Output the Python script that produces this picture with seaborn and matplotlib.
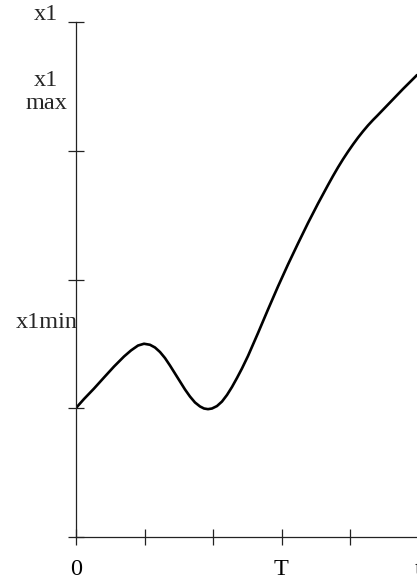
import matplotlib
matplotlib.use("Agg")
import matplotlib.pyplot as plt
import seaborn as sns
import pandas as pd

# Curve samples (x in tick units, y in tick units)
t_vals = [0.000, 0.117, 0.263, 0.409, 0.555, 0.701, 0.803, 0.905, 0.993, 1.080,
          1.153, 1.226, 1.299, 1.372, 1.445, 1.518, 1.591, 1.664, 1.737, 1.810,
          1.869, 1.927, 1.985, 2.058, 2.131, 2.204, 2.277, 2.350, 2.423, 2.511,
          2.657, 2.803, 2.949, 3.095, 3.241, 3.387, 3.533, 3.679, 3.752, 3.825,
          3.898, 3.971, 4.044, 4.117, 4.190, 4.263, 4.336, 4.394, 4.584, 4.774,
          4.978]
x1_vals = [1.002, 1.072, 1.153, 1.239, 1.324, 1.402, 1.449, 1.487, 1.501, 1.493,
           1.472, 1.437, 1.390, 1.332, 1.270, 1.208, 1.146, 1.091, 1.045, 1.014,
           0.998, 0.993, 0.998, 1.017, 1.052, 1.103, 1.165, 1.235, 1.309, 1.406,
           1.584, 1.767, 1.946, 2.117, 2.280, 2.439, 2.590, 2.734, 2.804, 2.871,
           2.934, 2.993, 3.049, 3.102, 3.151, 3.197, 3.239, 3.270, 3.375, 3.480,
           3.588]

x_ticks = [0, 1, 2, 3, 4, 5]
x_tick_labels = ["0", "", "", "T", "", "t"]
y_ticks = [0, 1, 2, 3, 4]

sns.set_style("white")
plt.rcParams["font.family"] = ["Liberation Serif", "DejaVu Serif"]

W, H = 417, 580
fig = plt.figure(figsize=(W / 100, H / 100), dpi=100)
ax = fig.add_axes([76 / W, 43 / H, 342.5 / W, 515 / H])

df = pd.DataFrame({"t": t_vals, "x1": x1_vals})
sns.lineplot(data=df, x="t", y="x1", ax=ax, color="black", linewidth=1.9,
             sort=False, estimator=None)

ax.set_xlim(0, 5)
ax.set_ylim(0, 4)
ax.set_xticks(x_ticks)
ax.set_xticklabels(x_tick_labels, fontsize=17.5)
ax.set_yticks(y_ticks)
ax.set_yticklabels([])
ax.set_xlabel("")
ax.set_ylabel("")

for side in ["top", "right"]:
    ax.spines[side].set_visible(False)
for side in ["left", "bottom"]:
    ax.spines[side].set_color("#222222")
    ax.spines[side].set_linewidth(0.9)
ax.tick_params(axis="both", which="major", bottom=True, left=True,
               direction="inout", length=11, width=0.9,
               color="#222222", labelcolor="black")
ax.tick_params(axis="x", pad=10)
ax.patch.set_alpha(0)

fs = 17.5
fig.text(46 / W, 1 - 15 / H, "x1", ha="center", va="center", fontsize=fs)
fig.text(46 / W, 1 - 92 / H, "x1\nmax", ha="center", va="center", fontsize=fs,
         linespacing=1.15)
fig.text(47 / W, 1 - 322 / H, "x1min", ha="center", va="center", fontsize=fs)

fig.savefig("out.png", dpi=100)
